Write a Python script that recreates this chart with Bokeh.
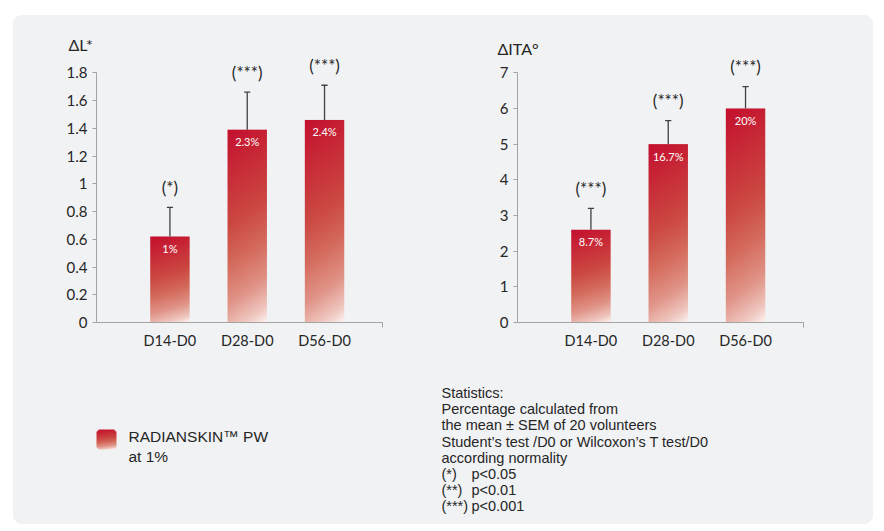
import numpy as np
from bokeh.plotting import figure
from bokeh.models import Range1d, FixedTicker, ColumnDataSource
from bokeh.layouts import row, column
from bokeh.embed import file_html
from bokeh.resources import INLINE
from bokeh.core.properties import value

# ---- data -----------------------------------------------------------------
periods = ["D14-D0", "D28-D0", "D56-D0"]

dl_mean = [0.62, 1.39, 1.46]
dl_sem = [0.21, 0.27, 0.25]
dl_pct = ["1%", "2.3%", "2.4%"]
dl_sig = ["(*)", "(***)", "(***)"]
dl_ticks = [0, 0.2, 0.4, 0.6, 0.8, 1.0, 1.2, 1.4, 1.6, 1.8]
dl_tick_labels = ["0", "0.2", "0.4", "0.6", "0.8", "1", "1.2", "1.4", "1.6", "1.8"]

dita_mean = [2.6, 5.0, 6.0]
dita_sem = [0.6, 0.66, 0.61]
dita_pct = ["8.7%", "16.7%", "20%"]
dita_sig = ["(***)", "(***)", "(***)"]
dita_ticks = [0, 1, 2, 3, 4, 5, 6, 7]
dita_tick_labels = ["0", "1", "2", "3", "4", "5", "6", "7"]

legend_lines = ["RADIANSKIN\u2122 PW", "at 1%"]
stats_lines = [
    "Statistics:",
    "Percentage calculated from",
    "the mean \u00b1 SEM of 20 volunteers",
    "Student\u2019s test /D0 or Wilcoxon\u2019s T test/D0",
    "according normality",
]
sig_keys = ["(*)", "(**)", "(***)"]
sig_levels = ["p<0.05", "p<0.01", "p<0.001"]

# ---- styling --------------------------------------------------------------
PANEL = "#f1f2f4"
AXIS = "#a3a3a3"
INK = "#262626"
ERR = "#404040"
CHART_FONT = "Lato"
NOTE_FONT = "Liberation Sans"
BAR_W = 0.51
PX_PER_CAT = 77.3

GRAD_T = [0.0, 0.44, 0.62, 0.80, 0.93, 1.0]
GRAD_RGB = [(196, 16, 46), (204, 72, 66), (212, 106, 92),
            (225, 148, 136), (240, 200, 193), (253, 243, 241)]


def gradient_rgba(nx, ny, radius=0):
    """Diagonal red-to-white fill: dark at the top-left, pale at the bottom-right."""
    xf = np.linspace(0.0, 1.0, nx)[None, :]
    down = np.linspace(1.0, 0.0, ny)[:, None]          # row 0 is the bottom
    t = np.clip(0.88 * down + 0.12 * xf, 0.0, 1.0)
    img = np.zeros((ny, nx), dtype=np.uint32)
    view = img.view(dtype=np.uint8).reshape((ny, nx, 4))
    for k in range(3):
        view[..., k] = np.interp(t, GRAD_T, [c[k] for c in GRAD_RGB]).astype(np.uint8)
    view[..., 3] = 255
    if radius:
        yy, xx = np.mgrid[0:ny, 0:nx] + 0.5
        for cx in (radius, nx - radius):
            for cy in (radius, ny - radius):
                inx = (xx < radius) if cx == radius else (xx > nx - radius)
                iny = (yy < radius) if cy == radius else (yy > ny - radius)
                outside = inx & iny & ((xx - cx) ** 2 + (yy - cy) ** 2 > radius ** 2)
                view[..., 3][outside] = 0
    return img


def make_chart(width, left_border, y_end, means, sems, pcts, sigs,
               ticks, tick_labels, bound_top, title, title_shift, title_gap):
    x_end = 0.05 + (width - left_border) / PX_PER_CAT
    p = figure(width=width, height=340,
               x_range=Range1d(0.05, x_end), y_range=Range1d(0, y_end),
               output_backend="svg", toolbar_location=None,
               min_border_left=left_border, min_border_right=0,
               min_border_top=43, min_border_bottom=33)
    p.background_fill_color = PANEL
    p.border_fill_color = PANEL
    p.outline_line_color = None
    p.grid.visible = False

    # axis caption sits just above the value axis
    p.title.text = title
    p.title.align = "left"
    p.title.offset = title_shift
    p.title.standoff = title_gap
    p.title.text_font = CHART_FONT
    p.title.text_font_size = "16px"
    p.title.text_font_style = "normal"
    p.title.text_color = INK

    xs = np.arange(1, len(means) + 1, dtype=float)
    means = np.asarray(means, dtype=float)
    tops = means + np.asarray(sems, dtype=float)

    # gradient bars
    bars = ColumnDataSource(dict(
        image=[gradient_rgba(40, 260) for _ in means],
        x=list(xs - BAR_W / 2), y=[0.0] * len(means),
        dw=[BAR_W] * len(means), dh=list(means),
    ))
    p.image_rgba(image="image", x="x", y="y", dw="dw", dh="dh", source=bars)

    # upper SEM whiskers
    p.segment(x0=xs, y0=means, x1=xs, y1=tops, line_color=ERR, line_width=1.3)
    p.segment(x0=xs - 0.04, y0=tops, x1=xs + 0.04, y1=tops,
              line_color=ERR, line_width=1.3)

    # percentage inside each bar, significance above each whisker
    p.text(x=xs, y=means, text=pcts, text_color="white",
           text_font=value(CHART_FONT), text_font_size="11px",
           text_align="center", text_baseline="middle", y_offset=12)
    p.text(x=xs, y=tops, text=sigs, text_color=INK,
           text_font=value(CHART_FONT), text_font_size="17px",
           text_align="center", text_baseline="middle", y_offset=-20)

    # axes
    xa = p.xaxis[0]
    xa.ticker = FixedTicker(ticks=[1, 2, 3], minor_ticks=[3.75])
    xa.major_label_overrides = {1: periods[0], 2: periods[1], 3: periods[2]}
    xa.bounds = (0.05, 3.75)
    xa.axis_line_color = AXIS
    xa.major_tick_line_color = None
    xa.minor_tick_line_color = AXIS
    xa.minor_tick_in = 0
    xa.minor_tick_out = 5
    xa.major_label_standoff = 3
    xa.major_label_text_font = CHART_FONT
    xa.major_label_text_font_size = "14.5px"
    xa.major_label_text_color = INK

    ya = p.yaxis[0]
    ya.ticker = FixedTicker(ticks=ticks, minor_ticks=[])
    ya.major_label_overrides = {t: s for t, s in zip(ticks, tick_labels)}
    ya.bounds = (0, bound_top)
    ya.axis_line_color = AXIS
    ya.major_tick_line_color = AXIS
    ya.major_tick_in = 0
    ya.major_tick_out = 4
    ya.minor_tick_line_color = None
    ya.major_label_standoff = 5
    ya.major_label_text_font = CHART_FONT
    ya.major_label_text_font_size = "15px"
    ya.major_label_text_color = INK
    return p


left = make_chart(427, 83, 1.903, dl_mean, dl_sem, dl_pct, dl_sig,
                  dl_ticks, dl_tick_labels, 1.8, "\u0394L*", -28, 9)
right = make_chart(433, 77, 7.40, dita_mean, dita_sem, dita_pct, dita_sig,
                   dita_ticks, dita_tick_labels, 7, "\u0394ITA\u00b0", -20, 2)

# ---- legend and statistics notes -----------------------------------------
notes = figure(width=860, height=169, x_range=Range1d(13, 873), y_range=Range1d(0, 169),
               output_backend="svg", toolbar_location=None, min_border=0,
               x_axis_location=None, y_axis_location=None)
notes.background_fill_color = PANEL
notes.border_fill_color = PANEL
notes.outline_line_color = None
notes.grid.visible = False

notes.image_rgba(image=[gradient_rgba(20, 20, radius=4)], x=96, y=75, dw=20, dh=20)
notes.text(x=[128, 128], y=[88, 68], text=legend_lines, text_color=INK,
           text_font=value(NOTE_FONT), text_font_size="15.5px",
           text_baseline="alphabetic")

stat_y = [131.5 - 16.2 * i for i in range(len(stats_lines))]
notes.text(x=[441] * len(stats_lines), y=stat_y, text=stats_lines, text_color=INK,
           text_font=value(NOTE_FONT), text_font_size="14.5px", text_baseline="alphabetic")
sig_y = [131.5 - 16.2 * (len(stats_lines) + i) for i in range(len(sig_keys))]
notes.text(x=[441] * len(sig_keys), y=sig_y, text=sig_keys, text_color=INK,
           text_font=value(NOTE_FONT), text_font_size="14.5px", text_baseline="alphabetic")
notes.text(x=[471] * len(sig_levels), y=sig_y, text=sig_levels, text_color=INK,
           text_font=value(NOTE_FONT), text_font_size="14.5px", text_baseline="alphabetic")

charts = row(left, right, styles={"background-color": PANEL})
page = column(charts, notes, margin=(15, 11, 7, 13),
              styles={"border-radius": "9px", "overflow": "hidden",
                      "background-color": PANEL})

open("out.html", "w").write(file_html(page, INLINE))
